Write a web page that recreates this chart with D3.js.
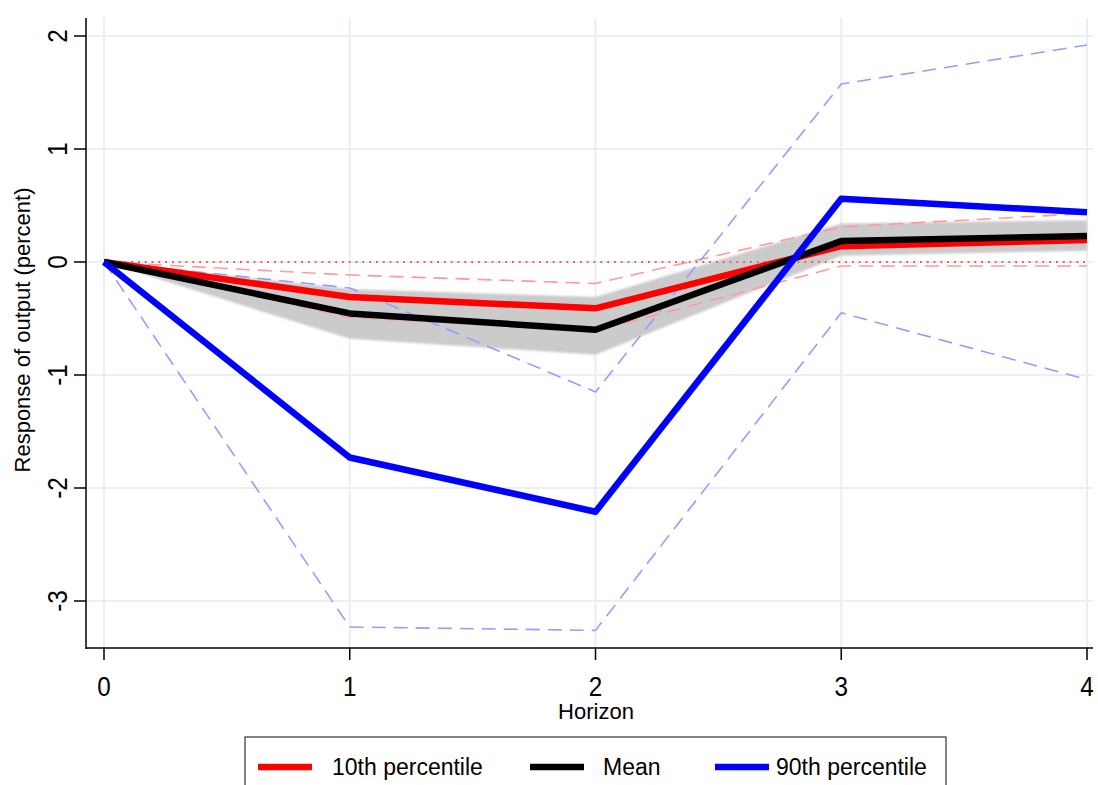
<!DOCTYPE html>
<html>
<head>
<meta charset="utf-8">
<script src="https://cdn.jsdelivr.net/npm/d3@7"></script>
<style>
  body { margin: 0; background: #fff; }
  text { font-family: "Liberation Sans", Arial, sans-serif; fill: #000; }
</style>
</head>
<body>
<svg id="chart" width="1098" height="785"></svg>
<script>
// horizons
var horizon = [0, 1, 2, 3, 4]

// point estimates
var p10 = [0, -0.31, -0.41, 0.14, 0.195]
var mean = [0, -0.455, -0.60, 0.185, 0.23]
var p90 = [0, -1.73, -2.21, 0.56, 0.44]

// confidence bands
var meanLo = [0, -0.68, -0.82, 0.055, 0.10]
var meanHi = [0, -0.24, -0.31, 0.34, 0.37]
var p10Lo = [0, -0.49, -0.61, -0.035, -0.035]
var p10Hi = [0, -0.115, -0.19, 0.31, 0.43]
var p90Lo = [0, -3.23, -3.26, -0.45, -1.04]
var p90Hi = [0, -0.23, -1.15, 1.575, 1.92]

var yTicks = [-3, -2, -1, 0, 1, 2]
var xTicks = [0, 1, 2, 3, 4]

var legendItems = [
    { label: '10th percentile', color: '#ff0000' },
    { label: 'Mean', color: '#000000' },
    { label: '90th percentile', color: '#0000ff' }
]

var svg = d3.select('#chart')

var x = d3.scaleLinear().domain([0, 4]).range([104, 1087])
var y = d3.scaleLinear().domain([-3, 2]).range([601, 36])

var plotLeft = 86, plotRight = 1093, plotTop = 18, plotBottom = 648

// gridlines
svg.append('g').selectAll('line.hg')
    .data(yTicks).enter().append('line')
    .attr('x1', plotLeft).attr('x2', plotRight)
    .attr('y1', function(d) { return y(d) }).attr('y2', function(d) { return y(d) })
    .attr('stroke', '#e8f0f1').attr('stroke-width', 2)
svg.append('g').selectAll('line.vg')
    .data(xTicks).enter().append('line')
    .attr('x1', function(d) { return x(d) }).attr('x2', function(d) { return x(d) })
    .attr('y1', plotTop).attr('y2', plotBottom)
    .attr('stroke', '#e8f0f1').attr('stroke-width', 2)

// soft edge for the band
var defs = svg.append('defs')
defs.append('filter').attr('id', 'soft')
    .append('feGaussianBlur').attr('stdDeviation', 1.2)

var band = horizon.map(function(h, i) { return { h: h, lo: meanLo[i], hi: meanHi[i] } })
var area = d3.area()
    .x(function(d) { return x(d.h) })
    .y0(function(d) { return y(d.lo) })
    .y1(function(d) { return y(d.hi) })
svg.append('path')
    .attr('d', area(band))
    .attr('fill', '#cbcbcb')
    .attr('filter', 'url(#soft)')

var line = d3.line()
    .x(function(d, i) { return x(horizon[i]) })
    .y(function(d) { return y(d) })

// zero line
svg.append('path')
    .attr('d', line([0, 0, 0, 0, 0]))
    .attr('fill', 'none')
    .attr('stroke', '#e85a5a')
    .attr('stroke-width', 1.8)
    .attr('stroke-dasharray', '1.8,5')

function dashed(vals, color) {
    svg.append('path')
        .attr('d', line(vals))
        .attr('fill', 'none')
        .attr('stroke', color)
        .attr('stroke-width', 1.6)
        .attr('stroke-dasharray', '14,8')
        .attr('stroke-linejoin', 'round')
}
dashed(p10Hi, '#ff9a9a')
dashed(p10Lo, '#ff9a9a')
dashed(p90Hi, '#9a9aff')
dashed(p90Lo, '#9a9aff')

function thick(vals, color) {
    svg.append('path')
        .attr('d', line(vals))
        .attr('fill', 'none')
        .attr('stroke', color)
        .attr('stroke-width', 6.5)
        .attr('stroke-linejoin', 'round')
}
thick(p10, '#ff0000')
thick(mean, '#000000')
thick(p90, '#0000ff')

// axes
svg.append('line')
    .attr('x1', plotLeft).attr('x2', plotLeft)
    .attr('y1', plotTop).attr('y2', plotBottom + 1)
    .attr('stroke', '#000').attr('stroke-width', 1.5)
svg.append('line')
    .attr('x1', plotLeft).attr('x2', plotRight)
    .attr('y1', plotBottom).attr('y2', plotBottom)
    .attr('stroke', '#000').attr('stroke-width', 1.5)

svg.append('g').selectAll('line')
    .data(yTicks).enter().append('line')
    .attr('x1', plotLeft - 12).attr('x2', plotLeft)
    .attr('y1', function(d) { return y(d) }).attr('y2', function(d) { return y(d) })
    .attr('stroke', '#000').attr('stroke-width', 1.5)
svg.append('g').selectAll('text')
    .data(yTicks).enter().append('text')
    .attr('transform', function(d) { return 'translate(67,' + y(d) + ') rotate(-90) scale(0.9,1)' })
    .attr('text-anchor', 'middle')
    .attr('font-size', '27px')
    .text(function(d) { return d })

svg.append('g').selectAll('line')
    .data(xTicks).enter().append('line')
    .attr('x1', function(d) { return x(d) }).attr('x2', function(d) { return x(d) })
    .attr('y1', plotBottom).attr('y2', plotBottom + 12)
    .attr('stroke', '#000').attr('stroke-width', 1.5)
svg.append('g').selectAll('text')
    .data(xTicks).enter().append('text')
    .attr('transform', function(d) { return 'translate(' + x(d) + ',696) scale(0.9,1)' })
    .attr('text-anchor', 'middle')
    .attr('font-size', '27px')
    .text(function(d) { return d })

svg.append('text')
    .attr('x', 596)
    .attr('y', 719)
    .attr('text-anchor', 'middle')
    .attr('font-size', '22px')
    .text('Horizon')

svg.append('text')
    .attr('transform', 'translate(30,330) rotate(-90)')
    .attr('text-anchor', 'middle')
    .attr('font-size', '22px')
    .text('Response of output (percent)')

// legend
var lg = svg.append('g')
lg.append('rect')
    .attr('x', 245).attr('y', 737)
    .attr('width', 701).attr('height', 60)
    .attr('fill', '#fff').attr('stroke', '#333').attr('stroke-width', 1.2)
var legendX = [258, 530, 715]
var legendTextX = [332, 603, 776]
legendItems.forEach(function(item, i) {
    lg.append('line')
        .attr('x1', legendX[i]).attr('x2', legendX[i] + 54)
        .attr('y1', 767).attr('y2', 767)
        .attr('stroke', item.color).attr('stroke-width', 6.5)
    lg.append('text')
        .attr('x', legendTextX[i])
        .attr('y', 775)
        .attr('font-size', '23px')
        .text(item.label)
})
</script>
</body>
</html>
